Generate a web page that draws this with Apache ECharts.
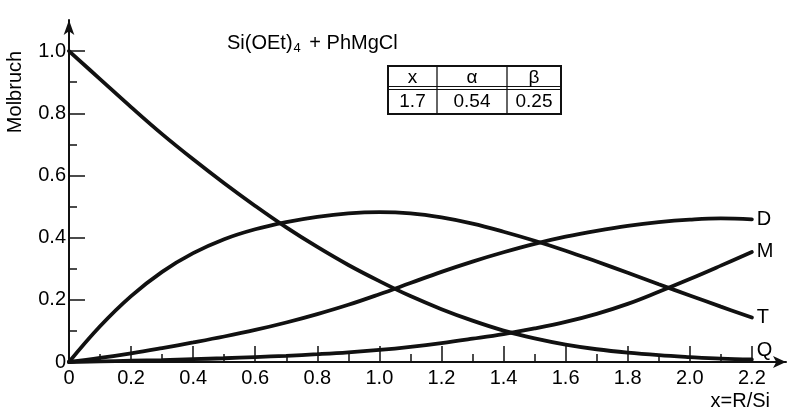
<!DOCTYPE html>
<html>
<head>
<meta charset="utf-8">
<script src="https://cdn.jsdelivr.net/npm/echarts@6/dist/echarts.min.js"></script>
<style>
  html, body { margin: 0; padding: 0; background: #fff; }
  #chart { width: 793px; height: 410px; }
</style>
</head>
<body>
<div id="chart"></div>
<script>
// R/Si ratio at which the mole fractions are given
const ratios = [0, 0.1, 0.2, 0.3, 0.4, 0.5, 0.6, 0.7, 0.8, 0.9, 1.0, 1.1,
                1.2, 1.3, 1.4, 1.5, 1.6, 1.7, 1.8, 1.9, 2.0, 2.1, 2.2];

// Mole fractions of the four silane species
const fracQ = [1.0, 0.91, 0.82, 0.733, 0.652, 0.575, 0.502, 0.433, 0.37, 0.312, 0.26, 0.212,
               0.17, 0.133, 0.101, 0.076, 0.056, 0.041, 0.03, 0.022, 0.016, 0.011, 0.008];
const fracT = [0, 0.115, 0.212, 0.29, 0.35, 0.395, 0.427, 0.45, 0.467, 0.478, 0.482, 0.478,
               0.465, 0.445, 0.419, 0.39, 0.358, 0.323, 0.287, 0.25, 0.214, 0.178, 0.143];
const fracD = [0, 0.013, 0.028, 0.045, 0.063, 0.082, 0.103, 0.127, 0.154, 0.184, 0.218, 0.254,
               0.29, 0.323, 0.353, 0.38, 0.403, 0.422, 0.438, 0.45, 0.458, 0.462, 0.459];
const fracM = [0, 0.002, 0.004, 0.006, 0.009, 0.012, 0.016, 0.02, 0.025, 0.031, 0.039, 0.049,
               0.061, 0.075, 0.09, 0.108, 0.129, 0.155, 0.187, 0.226, 0.267, 0.31, 0.354];

// Axis ticks
const xMajor = [0, 0.2, 0.4, 0.6, 0.8, 1.0, 1.2, 1.4, 1.6, 1.8, 2.0, 2.2];
const xMinor = [0.1, 0.3, 0.5, 0.7, 0.9, 1.1, 1.3, 1.5, 1.7, 1.9, 2.1];
const yMajor = [0, 0.2, 0.4, 0.6, 0.8, 1.0];
const yMinor = [0.1, 0.3, 0.5, 0.7, 0.9];

// Parameter table
const tableHead = ['x', 'α', 'β'];
const tableRow = ['1.7', '0.54', '0.25'];

const FONT = 'Liberation Sans';
const INK = '#111';

const pairs = vals => ratios.map((r, i) => [r, vals[i]]);
const fmt = v => (v === 0 ? '0' : v.toFixed(1));

function curve(name, vals, offset) {
  return {
    name: name,
    type: 'line',
    data: pairs(vals),
    smooth: 0.4,
    symbol: 'none',
    xAxisIndex: 0,
    yAxisIndex: 0,
    lineStyle: { color: INK, width: 3.8, cap: 'round' },
    endLabel: {
      show: true,
      formatter: '{a}',
      color: '#000',
      fontFamily: FONT,
      fontSize: 20,
      distance: 5,
      offset: offset || [0, 0]
    },
    emphasis: { disabled: true },
    z: 3
  };
}

// Table graphics
const colX = [388, 437, 507, 561];
const rowY = [66, 88, 114];
const tableEls = [
  { type: 'rect', shape: { x: colX[0], y: rowY[0], width: colX[3] - colX[0], height: rowY[2] - rowY[0] },
    style: { fill: 'none', stroke: INK, lineWidth: 2 } },
  { type: 'line', shape: { x1: colX[0], y1: rowY[1] - 1.5, x2: colX[3], y2: rowY[1] - 1.5 }, style: { stroke: INK, lineWidth: 1 } },
  { type: 'line', shape: { x1: colX[0], y1: rowY[1] + 1.5, x2: colX[3], y2: rowY[1] + 1.5 }, style: { stroke: INK, lineWidth: 1 } },
  { type: 'line', shape: { x1: colX[1], y1: rowY[0], x2: colX[1], y2: rowY[2] }, style: { stroke: INK, lineWidth: 1.3 } },
  { type: 'line', shape: { x1: colX[2], y1: rowY[0], x2: colX[2], y2: rowY[2] }, style: { stroke: INK, lineWidth: 1.3 } }
];
tableHead.forEach((t, i) => {
  tableEls.push({ type: 'text', x: (colX[i] + colX[i + 1]) / 2, y: (rowY[0] + rowY[1]) / 2 + 1,
    style: { text: t, font: '19px "' + FONT + '"', fill: '#000', align: 'center', verticalAlign: 'middle' } });
});
tableRow.forEach((t, i) => {
  tableEls.push({ type: 'text', x: (colX[i] + colX[i + 1]) / 2, y: (rowY[1] + rowY[2]) / 2 + 1,
    style: { text: t, font: '19px "' + FONT + '"', fill: '#000', align: 'center', verticalAlign: 'middle' } });
});

const chart = echarts.init(document.getElementById('chart'), null, { renderer: 'canvas' });

const axisCommon = {
  type: 'value',
  min: 0,
  splitLine: { show: false },
  axisPointer: { show: false }
};

chart.setOption({
  animation: false,
  backgroundColor: '#fff',
  textStyle: { fontFamily: FONT },
  grid: { left: 69, right: 7, top: 20, bottom: 48, containLabel: false },
  title: {
    left: 222,
    top: 26,
    text: '{a|Si(OEt)}{s|4}{a| + PhMgCl}',
    textStyle: {
      fontWeight: 'normal',
      rich: {
        a: { fontFamily: FONT, fontSize: 20, fontWeight: 'normal', color: '#000' },
        s: { fontFamily: FONT, fontSize: 13, fontWeight: 'normal', color: '#000', padding: [11, 3, 0, 1] }
      }
    }
  },
  xAxis: [
    Object.assign({}, axisCommon, {
      max: 2.31,
      position: 'bottom',
      axisLine: { show: true, symbol: ['none', 'arrow'], symbolSize: [9, 13],
                  lineStyle: { color: INK, width: 2 } },
      axisTick: { show: true, inside: true, length: 16, customValues: xMajor,
                  lineStyle: { color: INK, width: 1.5 } },
      axisLabel: { show: true, customValues: xMajor, formatter: fmt, margin: 6,
                   color: '#000', fontFamily: FONT, fontSize: 20 }
    }),
    Object.assign({}, axisCommon, {
      max: 2.31,
      position: 'bottom',
      axisLine: { show: false },
      axisTick: { show: true, inside: true, length: 8, customValues: xMinor,
                  lineStyle: { color: INK, width: 1.5 } },
      axisLabel: { show: false }
    })
  ],
  yAxis: [
    Object.assign({}, axisCommon, {
      max: 1.1,
      position: 'left',
      axisLine: { show: true, symbol: ['none', 'arrow'], symbolSize: [8, 15],
                  lineStyle: { color: INK, width: 2 } },
      axisTick: { show: true, inside: true, length: 16, customValues: yMajor,
                  lineStyle: { color: INK, width: 1.5 } },
      axisLabel: { show: true, customValues: yMajor, formatter: fmt, margin: 3,
                   color: '#000', fontFamily: FONT, fontSize: 20 }
    }),
    Object.assign({}, axisCommon, {
      max: 1.1,
      position: 'left',
      axisLine: { show: false },
      axisTick: { show: true, inside: true, length: 8, customValues: yMinor,
                  lineStyle: { color: INK, width: 1.5 } },
      axisLabel: { show: false }
    })
  ],
  series: [
    curve('Q', fracQ, [0, -9]),
    curve('T', fracT),
    curve('D', fracD),
    curve('M', fracM)
  ],
  graphic: [
    { type: 'text', x: 15, y: 92, rotation: Math.PI / 2,
      style: { text: 'Molbruch', font: '20px "' + FONT + '"', fill: '#000', align: 'center', verticalAlign: 'middle' } },
    { type: 'text', x: 770, y: 401,
      style: { text: 'x=R/Si', font: '20px "' + FONT + '"', fill: '#000', align: 'right', verticalAlign: 'middle' } },
    { type: 'group', children: tableEls }
  ]
});
</script>
</body>
</html>
